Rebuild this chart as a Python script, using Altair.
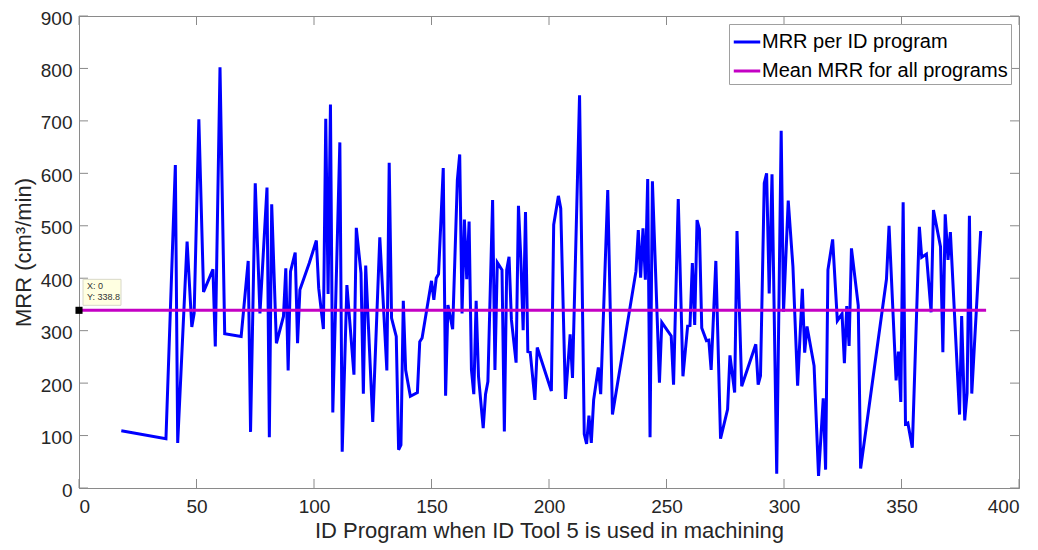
import altair as alt
import pandas as pd

# ---- data ----
prog_x = [18, 37, 41, 42, 46, 48, 49, 51, 53, 57, 58, 60, 62, 69, 72, 73, 75, 77, 80, 81,
          82, 84, 87, 88, 89, 90, 92, 93, 94, 98, 101, 102, 104, 105, 106, 107, 108, 111, 112, 114,
          117, 118, 120, 121, 122, 125, 128, 131, 132, 133, 135, 136, 137, 138, 139, 141, 144, 145, 146, 150,
          151, 152, 153, 155, 156, 157, 159, 161, 162, 163, 164, 165, 166, 167, 168, 169, 170, 172, 173, 174,
          176, 177, 178, 180, 181, 182, 183, 184, 186, 187, 188, 189, 190, 191, 192, 194, 195, 201, 202, 204,
          205, 207, 209, 210, 213, 215, 216, 217, 218, 219, 221, 222, 225, 227, 237, 238, 239, 240, 241, 242,
          243, 244, 247, 248, 252, 253, 255, 257, 259, 260, 261, 262, 263, 264, 265, 267, 268, 269, 271, 273,
          276, 277, 279, 280, 282, 288, 289, 290, 291.6, 292.6, 293.7, 294.9, 296.9, 298.8, 299.8, 301.8, 303.8, 305.8,
          307.8, 308.8, 309.8, 312.8, 314.7, 316.7, 317.7, 318.7, 320.7, 322.7, 324.7, 325.7, 326.7, 327.7, 328.7, 331.6,
          332.6, 343.6, 344.7, 347.7, 348.7, 349.7, 350.7, 351.7, 352.7, 354.6, 357.6, 358.6, 360.6, 362.6, 363.6, 366.6,
          367.6, 368.6, 369.8, 370.8, 374.7, 375.6, 376.9, 377.9, 378.9, 379.9, 383.7]
mrr = [109, 94, 616, 86, 470, 307, 333, 703, 374, 417, 270, 802, 294, 289, 433, 107, 581, 333, 573, 97,
       541, 276, 327, 419, 224, 413, 449, 276, 378, 429, 472, 381, 303, 704, 370, 731, 144, 659, 69, 387,
       216, 496, 410, 180, 424, 126, 478, 224, 620, 324, 289, 73, 82, 357, 225, 175, 182, 279, 286, 395,
       359, 400, 408, 610, 176, 349, 303, 587, 636, 333, 512, 398, 508, 225, 179, 357, 213, 114, 179, 203,
       549, 225, 430, 416, 108, 416, 441, 321, 239, 538, 438, 301, 526, 260, 259, 168, 268, 185, 502, 557,
       533, 170, 293, 210, 749, 103, 84, 138, 86, 168, 230, 179, 568, 140, 413, 492, 401, 495, 397, 589,
       97, 585, 201, 316, 290, 197, 551, 213, 309, 310, 429, 311, 511, 494, 305, 281, 282, 225, 433, 94,
       150, 253, 182, 490, 194, 274, 197, 214, 581, 600, 371, 598, 27, 681, 336, 548, 422, 195,
       380, 258, 308, 233, 23, 171, 35, 416, 474, 319, 332, 238, 347, 271, 457, 348,
       37, 398, 500, 205, 260, 164, 545, 122, 124, 77, 498, 440, 446, 335, 530, 460,
       259, 522, 435, 488, 140, 328, 129, 181, 519, 180, 490]

mean_mrr = 338.8
mean_x = [0, 386]
series_names = ["MRR per ID program", "Mean MRR for all programs"]
series_colors = ["#0000ff", "#c400c4"]
x_ticks = [0, 50, 100, 150, 200, 250, 300, 350, 400]
y_ticks = [0, 100, 200, 300, 400, 500, 600, 700, 800, 900]
x_title = "ID Program when ID Tool 5 is used in machining"
y_title = "MRR (cm³/min)"

W, H = 940, 472
FONT = "Liberation Sans"
AX = "#8a8a8a"

df = pd.concat([
    pd.DataFrame({"x": prog_x, "y": mrr, "series": series_names[0], "order": range(len(prog_x))}),
    pd.DataFrame({"x": mean_x, "y": [mean_mrr] * len(mean_x), "series": series_names[1],
                  "order": range(len(mean_x))}),
])

xs = alt.Scale(domain=[0, 400], nice=False, zero=False)
ys = alt.Scale(domain=[0, 900], nice=False, zero=False)
x_axis = alt.Axis(values=x_ticks, title=x_title)
y_axis = alt.Axis(values=y_ticks, title=y_title)


def X(f):
    return alt.X(f, scale=xs, axis=x_axis)


def Y(f):
    return alt.Y(f, scale=ys, axis=y_axis)


lines = alt.Chart(df).mark_line(strokeWidth=3, clip=True).encode(
    x=X("x:Q"),
    y=Y("y:Q"),
    color=alt.Color("series:N",
                    scale=alt.Scale(domain=series_names, range=series_colors),
                    legend=alt.Legend(title=None, orient="top-right", offset=8,
                                      symbolType="stroke", symbolSize=700, symbolStrokeWidth=3,
                                      labelFontSize=20, labelFont=FONT, labelColor="#000000",
                                      labelLimit=400, labelOffset=0, rowPadding=4,
                                      padding=3, strokeColor="#a0a0a0", fillColor="#ffffff")),
    detail="series:N",
    order="order:Q",
)

xt = pd.DataFrame({"t": x_ticks})
yt = pd.DataFrame({"t": y_ticks})
TL = 9
tick_style = dict(color=AX, strokeWidth=1)
xt_bot = alt.Chart(xt).mark_rule(**tick_style).encode(
    x=X("t:Q"), y=alt.value(H), y2=alt.value(H - TL))
xt_top = alt.Chart(xt).mark_rule(**tick_style).encode(
    x=X("t:Q"), y=alt.value(0), y2=alt.value(TL))
yt_left = alt.Chart(yt).mark_rule(**tick_style).encode(
    y=Y("t:Q"), x=alt.value(0), x2=alt.value(TL))
yt_right = alt.Chart(yt).mark_rule(**tick_style).encode(
    y=Y("t:Q"), x=alt.value(W), x2=alt.value(W - TL))

# data tip at (0, mean)
tip = pd.DataFrame({"x": [0], "y": [mean_mrr], "lx": ["X: 0"], "ly": ["Y: 338.8"]})
tip_box = alt.Chart(tip).mark_rect(fill="#ffffe1", stroke="#d8d8c8", strokeWidth=1,
                                   xOffset=4, x2Offset=42, yOffset=-31, y2Offset=-5).encode(
    x=X("x:Q"), x2="x:Q", y=Y("y:Q"), y2="y:Q")
tip_t1 = alt.Chart(tip).mark_text(align="left", baseline="middle", dx=8, dy=-24,
                                  fontSize=9, font=FONT, color="#333333").encode(
    x=X("x:Q"), y=Y("y:Q"), text="lx:N")
tip_t2 = alt.Chart(tip).mark_text(align="left", baseline="middle", dx=8, dy=-13,
                                  fontSize=9, font=FONT, color="#333333").encode(
    x=X("x:Q"), y=Y("y:Q"), text="ly:N")
tip_pt = alt.Chart(tip).mark_point(shape="square", filled=True, color="#000000", size=50, opacity=1).encode(
    x=X("x:Q"), y=Y("y:Q"))

chart = alt.layer(
    lines, xt_bot, xt_top, yt_left, yt_right, tip_box, tip_t1, tip_t2, tip_pt
).properties(
    width=W, height=H,
    autosize=alt.AutoSizeParams(type="none"),
    padding={"left": 71, "top": 8, "right": 11, "bottom": 62},
    background="#ffffff",
).configure_view(
    stroke=AX, strokeWidth=1
).configure_axis(
    grid=False, ticks=False, domainColor=AX, domainWidth=1,
    labelFont=FONT, labelFontSize=19, labelColor="#262626",
    titleFont=FONT, titleFontSize=22, titleColor="#262626", titleFontWeight="normal",
).configure_axisX(
    titlePadding=4, labelPadding=9
).configure_axisY(
    titlePadding=5, labelPadding=7, labelOffset=2
)

chart.save("out.html", embed_options={"renderer": "svg", "actions": False})
